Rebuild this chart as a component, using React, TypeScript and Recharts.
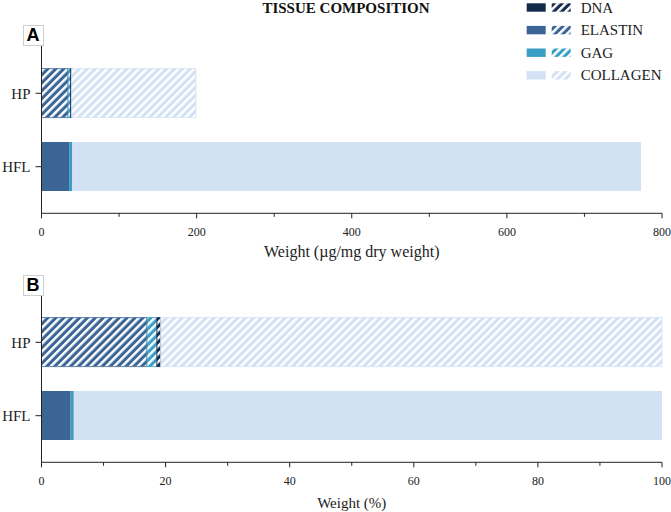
import React from "react"
import { BarChart, Bar, XAxis, YAxis, Cell } from "recharts"

const categories = ["HP", "HFL"]
const stackOrder = ["ELASTIN", "GAG", "DNA", "COLLAGEN"]
const legendOrder = ["DNA", "ELASTIN", "GAG", "COLLAGEN"]

// panel A, µg/mg dry weight
const elastinWeight = [34.2, 35.6]
const gagWeight = [3.2, 3.6]
const dnaWeight = [1.2, 0.4]
const collagenWeight = [160.4, 733.4]

// panel B, % of total
const elastinPct = [17.0, 4.7]
const gagPct = [1.6, 0.45]
const dnaPct = [0.6, 0.05]
const collagenPct = [80.8, 94.8]

const weightTicks = [0, 100, 200, 300, 400, 500, 600, 700, 800]
const weightLabels = [0, 200, 400, 600, 800]
const pctTicks = [0, 10, 20, 30, 40, 50, 60, 70, 80, 90, 100]
const pctLabels = [0, 20, 40, 60, 80, 100]

const colors: Record<string, string> = {
  DNA: "#132b4b",
  ELASTIN: "#3b6595",
  GAG: "#399ec6",
  COLLAGEN: "#d2e1f3",
}

const serif = "'Liberation Serif', 'Times New Roman', serif"
const axisColor = "#222"

const toRows = (e: number[], g: number[], d: number[], c: number[]) =>
  categories.map((name, i) => ({ name, ELASTIN: e[i], GAG: g[i], DNA: d[i], COLLAGEN: c[i] }))

const weightRows = toRows(elastinWeight, gagWeight, dnaWeight, collagenWeight)
const pctRows = toRows(elastinPct, gagPct, dnaPct, collagenPct)

const hatchId = (k: string) => `hatch-${k.toLowerCase()}`

const Patterns = () => (
  <svg width={0} height={0} style={{ position: "absolute" }}>
    <defs>
      {stackOrder.map((k) => (
        <pattern
          key={k}
          id={hatchId(k)}
          patternUnits="userSpaceOnUse"
          width={5.6}
          height={5.6}
          patternTransform="rotate(45)"
        >
          <rect width={5.6} height={5.6} fill={colors[k]} />
          <rect width={2.5} height={5.6} fill="#fff" />
        </pattern>
      ))}
    </defs>
  </svg>
)

const makeTick = (labels: number[]) => (props: any) => {
  const { x, y, payload } = props
  const major = labels.includes(payload.value)
  return (
    <g>
      <line x1={x} x2={x} y1={y} y2={y + (major ? 5 : 3.5)} stroke={axisColor} strokeWidth={1} />
      {major && (
        <text x={x} y={y + 22.7} textAnchor="middle" fontFamily={serif} fontSize={12} fill="#222">
          {payload.value}
        </text>
      )}
    </g>
  )
}

type PanelProps = {
  rows: any[]
  ticks: number[]
  labels: number[]
  max: number
  axisLabel: string
  labelSize: number
  labelOffset: number
  top: number
}

const Panel = ({ rows, ticks, labels, max, axisLabel, labelSize, labelOffset, top }: PanelProps) => (
  <div style={{ position: "absolute", left: 0, top }}>
    <BarChart
      width={671}
      height={263}
      data={rows}
      layout="vertical"
      margin={{ top: 44, right: 9, bottom: 0, left: 0 }}
    >
      <XAxis
        type="number"
        domain={[0, max]}
        ticks={ticks}
        interval={0}
        height={49.7}
        stroke={axisColor}
        tickLine={false}
        tickSize={0}
        tickMargin={0}
        tick={makeTick(labels)}
        label={{
          value: axisLabel,
          position: "insideBottom",
          offset: labelOffset,
          fontFamily: serif,
          fontSize: labelSize,
          fill: "#222",
        }}
      />
      <YAxis
        type="category"
        dataKey="name"
        width={41.5}
        padding={{ top: 12.6, bottom: 9.9 }}
        stroke={axisColor}
        tickSize={6}
        tickMargin={5}
        tick={{ fontFamily: serif, fontSize: 15, fill: "#222" }}
      />
      {stackOrder.map((k) => (
        <Bar key={k} dataKey={k} stackId="a" barSize={49} isAnimationActive={false}>
          {rows.map((r) => (
            <Cell
              key={r.name}
              fill={r.name === "HP" ? `url(#${hatchId(k)})` : colors[k]}
              stroke={r.name === "HP" ? colors[k] : "none"}
              strokeWidth={r.name === "HP" ? 0.8 : 0}
            />
          ))}
        </Bar>
      ))}
    </BarChart>
  </div>
)

const PanelLetter = ({ letter, top }: { letter: string; top: number }) => (
  <div
    style={{
      position: "absolute",
      left: 22.5,
      top,
      width: 19,
      height: 19,
      border: "1px solid #cfcfcf",
      background: "#fff",
      fontFamily: "'Liberation Sans', Arial, sans-serif",
      fontWeight: 700,
      fontSize: 18,
      lineHeight: "19px",
      textAlign: "center",
      color: "#000",
    }}
  >
    {letter}
  </div>
)

const LegendBox = () => (
  <svg width={150} height={90} style={{ position: "absolute", left: 520, top: 0 }}>
    {legendOrder.map((k, i) => {
      const cy = 7.5 + i * 22.6
      return (
        <g key={k}>
          <rect x={6.7} y={cy - 4.2} width={19} height={8.4} fill={colors[k]} />
          <rect x={31.7} y={cy - 4.2} width={19} height={8.4} fill={`url(#${hatchId(k)})`} />
          <text x={60.7} y={cy + 5} fontFamily={serif} fontSize={15} fill="#222">
            {k}
          </text>
        </g>
      )
    })}
  </svg>
)

export default function App() {
  return (
    <div style={{ position: "relative", width: 671, height: 512, background: "#fff", overflow: "hidden" }}>
      <style>{`body{margin:0}`}</style>
      <Patterns />
      <div
        style={{
          position: "absolute",
          left: 246,
          width: 200,
          top: 0,
          textAlign: "center",
          fontFamily: serif,
          fontWeight: 700,
          fontSize: 15,
          lineHeight: "17px",
          color: "#111",
        }}
      >
        TISSUE COMPOSITION
      </div>
      <Panel
        rows={weightRows}
        ticks={weightTicks}
        labels={weightLabels}
        max={800}
        axisLabel="Weight (µg/mg dry weight)"
        labelSize={16}
        labelOffset={5.7}
        top={0}
      />
      <Panel
        rows={pctRows}
        ticks={pctTicks}
        labels={pctLabels}
        max={100}
        axisLabel="Weight (%)"
        labelSize={15}
        labelOffset={4.3}
        top={249}
      />
      <PanelLetter letter="A" top={24.5} />
      <PanelLetter letter="B" top={274.5} />
      <LegendBox />
    </div>
  )
}
